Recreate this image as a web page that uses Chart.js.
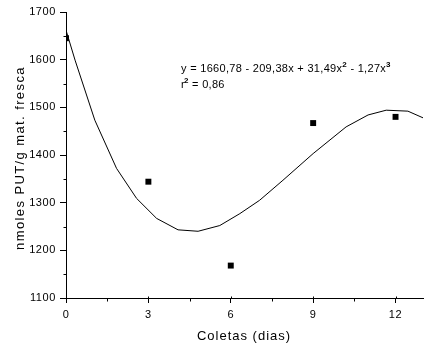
<!DOCTYPE html>
<html><head><meta charset="utf-8">
<script src="https://cdn.jsdelivr.net/npm/chart.js@4"></script>
<style>html,body{margin:0;padding:0;background:#fff}#wrap{width:446px;height:358px}</style>
</head><body><div id="wrap"><canvas id="c" width="446" height="358"></canvas></div>
<script>
// Observed data (Coletas, dias)
const dayValues = [0, 3, 6, 9, 12];
const putValues = [1645, 1344, 1168, 1467, 1480];
// Fitted curve as drawn in the picture
const curveX = [0, 0.33, 1.05, 1.84, 2.57, 3.3, 4.08, 4.81, 5.6, 6.33, 7.05, 7.9, 9.0, 10.2, 11.0, 11.66, 12.45, 13];
const curveY = [1662, 1599, 1473, 1372, 1309, 1267, 1243, 1240, 1252, 1277, 1305, 1347, 1403, 1459, 1484, 1494, 1492, 1478];
const xTickValues = [0, 3, 6, 9, 12];
const xTickLabels = ['0', '3', '6', '9', '12'];
const xMinorValues = [1.5, 4.5, 7.5, 10.5];
const yTickValues = [1100, 1200, 1300, 1400, 1500, 1600, 1700];
const yTickLabels = ['1100', '1200', '1300', '1400', '1500', '1600', '1700'];
const yMinorValues = [1150, 1250, 1350, 1450, 1550, 1650];
const xTitle = 'Coletas (dias)';
const yTitle = 'nmoles PUT/g mat. fresca';
const eqLine = ['y = 1660,78 - 209,38x + 31,49x', '2', ' - 1,27x', '3'];
const r2Line = ['r', '2', ' = 0,86'];

const FONT = '"Liberation Sans", Arial, sans-serif';

const spacingPlugin = {
  id: 'spacing',
  beforeDraw(chart) { chart.ctx.letterSpacing = '0.6px'; }
};

const textPlugin = {
  id: 'texts',
  afterDraw(chart) {
    const ctx = chart.ctx;
    const xs = chart.scales.x, ys = chart.scales.y;
    ctx.save();
    ctx.letterSpacing = '0px';
    // minor ticks
    ctx.strokeStyle = '#000';
    ctx.lineWidth = 1;
    ctx.beginPath();
    const xb = Math.round(ys.getPixelForValue(1100)) + 0.5;
    xMinorValues.forEach(v => {
      const px = Math.round(xs.getPixelForValue(v)) + 0.5;
      ctx.moveTo(px, xb); ctx.lineTo(px, xb + 3);
    });
    xTickValues.forEach(v => {
      const px = Math.round(xs.getPixelForValue(v)) + 0.5;
      ctx.moveTo(px, xb); ctx.lineTo(px, xb - 2);
    });
    const yl = Math.round(xs.getPixelForValue(0)) + 0.5;
    yMinorValues.forEach(v => {
      const py = Math.round(ys.getPixelForValue(v)) + 0.5;
      ctx.moveTo(yl, py); ctx.lineTo(yl - 3, py);
    });
    ctx.stroke();

    ctx.fillStyle = '#000';
    // x title
    ctx.font = '13px ' + FONT;
    ctx.letterSpacing = '1px';
    ctx.textAlign = 'center';
    ctx.textBaseline = 'middle';
    ctx.fillText(xTitle, 244, 336);
    // y title
    ctx.save();
    ctx.translate(20, 158);
    ctx.rotate(-Math.PI / 2);
    ctx.letterSpacing = '1.4px';
    ctx.fillText(yTitle, 0, 0);
    ctx.restore();
    // equation
    ctx.letterSpacing = '0.3px';
    ctx.textAlign = 'left';
    ctx.textBaseline = 'alphabetic';
    let x = 181, y = 72;
    eqLine.forEach((s, i) => {
      if (i % 2 === 1) {
        ctx.font = 'bold 8px ' + FONT;
        ctx.fillText(s, x, y - 5);
      } else {
        ctx.font = '11px ' + FONT;
        ctx.fillText(s, x, y);
      }
      x += ctx.measureText(s).width;
    });
    x = 181; y = 88;
    r2Line.forEach((s, i) => {
      if (i % 2 === 1) {
        ctx.font = 'bold 8px ' + FONT;
        ctx.fillText(s, x - 1, y - 5);
        x += ctx.measureText(s).width - 1;
      } else {
        ctx.font = '11px ' + FONT;
        ctx.fillText(s, x, y);
        x += ctx.measureText(s).width;
      }
    });
    ctx.restore();
  }
};

new Chart(document.getElementById('c'), {
  type: 'scatter',
  data: {
    datasets: [
      {
        type: 'line',
        data: curveX.map((v, i) => ({x: v, y: curveY[i]})),
        borderColor: '#000', borderWidth: 1, pointRadius: 0, tension: 0, fill: false
      },
      {
        data: dayValues.map((v, i) => ({x: v, y: putValues[i]})),
        pointStyle: 'rect', pointRadius: 4.2, backgroundColor: '#000', borderWidth: 0
      }
    ]
  },
  options: {
    responsive: false, animation: false,
    layout: {padding: {top: 12, right: 23, left: 0, bottom: 0}},
    plugins: {legend: {display: false}, tooltip: {enabled: false}},
    scales: {
      x: {
        type: 'linear', min: 0, max: 13,
        afterBuildTicks: s => { s.ticks = xTickValues.map(v => ({value: v})); },
        afterFit: s => { s.height = 358 - 298; },
        ticks: {
          autoSkip: false, maxRotation: 0, color: '#000', padding: 5,
          font: {family: FONT, size: 11},
          callback: (v) => { const i = xTickValues.indexOf(v); return i >= 0 ? xTickLabels[i] : ''; }
        },
        grid: {drawOnChartArea: false, tickLength: 5, color: '#000', tickColor: '#000'},
        border: {color: '#000', width: 1}
      },
      y: {
        type: 'linear', min: 1100, max: 1700,
        afterBuildTicks: s => { s.ticks = yTickValues.map(v => ({value: v})); },
        afterFit: s => { s.width = 66; },
        ticks: {
          autoSkip: false, color: '#000', padding: 4,
          font: {family: FONT, size: 11},
          callback: (v) => { const i = yTickValues.indexOf(v); return i >= 0 ? yTickLabels[i] : ''; }
        },
        grid: {drawOnChartArea: false, tickLength: 6, color: '#000', tickColor: '#000'},
        border: {color: '#000', width: 1}
      }
    }
  },
  plugins: [spacingPlugin, textPlugin]
});
</script>
</body></html>
